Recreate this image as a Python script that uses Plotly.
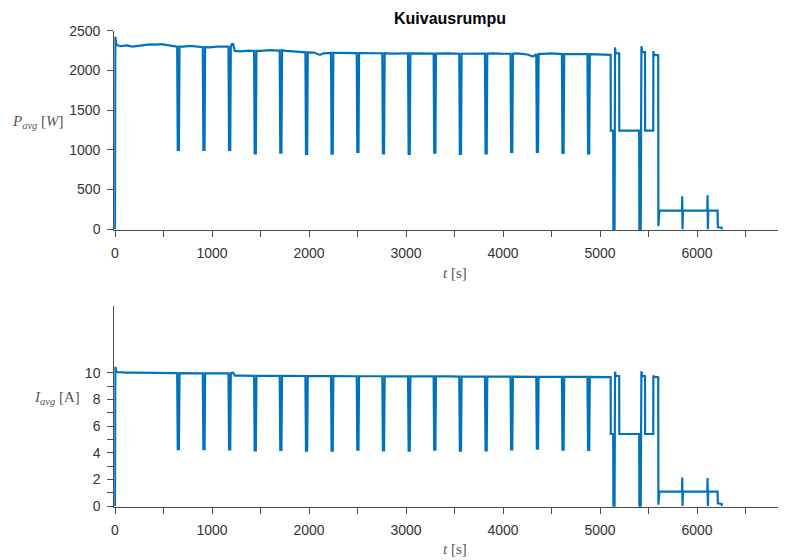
import plotly.graph_objects as go

# ---------------- data ----------------
# baseline of average power P_avg [W] / current I_avg [A] before the end sequence
base_t = [0, 3, 15, 60, 120, 180, 240, 300, 360, 420, 480, 540, 600, 700, 780, 850,
          980, 1050, 1120, 1160, 1205, 1218, 1235, 1300, 1380, 1500, 1600, 1680, 1760,
          1840, 1900, 2050, 2113, 2150, 2300, 2420, 2600, 2700, 2850, 3000, 3150, 3300,
          3450, 3600, 3750, 3900, 4000, 4150, 4250, 4310, 4360, 4500, 4700, 4800, 5000, 5108]
base_P = [0, 2425, 2320, 2305, 2315, 2300, 2310, 2320, 2328, 2325, 2330, 2318, 2305, 2300,
          2310, 2295, 2290, 2300, 2295, 2300, 2330, 2330, 2245, 2240, 2250, 2245, 2255, 2250,
          2245, 2240, 2230, 2225, 2195, 2215, 2220, 2218, 2215, 2220, 2212, 2215, 2210, 2212,
          2215, 2210, 2205, 2215, 2210, 2215, 2200, 2175, 2205, 2215, 2205, 2210, 2200, 2195]
base_I = [0, 10.45, 10.05, 10.02, 10.0, 10.0, 9.99, 9.98, 9.99, 9.98, 9.97, 9.97, 9.96, 9.95,
          9.95, 9.94, 9.95, 9.95, 9.94, 9.95, 10.0, 9.99, 9.78, 9.78, 9.77, 9.76, 9.77, 9.76,
          9.75, 9.75, 9.74, 9.75, 9.72, 9.74, 9.74, 9.73, 9.73, 9.73, 9.72, 9.72, 9.72, 9.71,
          9.72, 9.71, 9.70, 9.71, 9.70, 9.70, 9.69, 9.66, 9.68, 9.69, 9.68, 9.68, 9.67, 9.66]

# periodic dips: centre time, level before the dip, minimum of the dip
dip_t = [653, 917, 1182, 1446, 1710, 1975, 2239, 2504, 2768, 3033, 3297, 3561, 3826,
         4090, 4355, 4619, 4883]
dip_lvl_P = [2300, 2292, 2300, 2245, 2252, 2228, 2220, 2218, 2216, 2214, 2212, 2210, 2212,
             2210, 2205, 2206, 2205]
dip_min_P = [1000, 1000, 1000, 955, 965, 950, 952, 975, 955, 950, 950, 950, 955, 975,
             962, 962, 955]
dip_lvl_I = [9.96, 9.95, 9.95, 9.76, 9.76, 9.75, 9.74, 9.73, 9.73, 9.72, 9.72, 9.71, 9.71,
             9.70, 9.68, 9.69, 9.68]
dip_min_I = [4.27, 4.27, 4.25, 4.17, 4.2, 4.15, 4.16, 4.22, 4.17, 4.15, 4.15, 4.16, 4.17,
             4.25, 4.22, 4.22, 4.2]

# end of the programme (steps and spikes)
tail_t = [5110, 5111, 5136, 5138, 5150, 5155, 5162, 5198, 5199, 5404, 5406, 5420, 5427,
          5435, 5464, 5465, 5549, 5550, 5558, 5600, 5602, 5612, 5845, 5848, 5851, 5855,
          6106, 6109, 6112, 6116, 6212, 6215, 6254, 6256]
tail_P = [2195, 1243, 1243, 0, 0, 2290, 2215, 2215, 1243, 1243, 0, 0, 2305, 2231, 2231,
          1243, 1243, 2240, 2195, 2190, 40, 235, 235, 415, 0, 235, 235, 428, 0, 235, 235,
          25, 20, 0]
tail_I = [9.66, 5.4, 5.4, 0, 0, 10.07, 9.75, 9.75, 5.4, 5.4, 0, 0, 10.1, 9.74, 9.74, 5.4,
          5.4, 9.78, 9.68, 9.66, 0.1, 1.08, 1.08, 2.13, 0, 1.08, 1.08, 2.1, 0, 1.08, 1.08,
          0.2, 0.15, 0]

x_ticks = [0, 1000, 2000, 3000, 4000, 5000, 6000]
x_minor = [500, 1500, 2500, 3500, 4500, 5500, 6500]
yP_ticks = [0, 500, 1000, 1500, 2000, 2500]
yI_ticks = [0, 2, 4, 6, 8, 10]
yI_minor = [1, 3, 5, 7, 9]


def build(bt, bv, lv, mn, tt, tv):
    pts = list(zip(bt, bv))
    for c, l, m in zip(dip_t, lv, mn):
        pts += [(c - 12, l), (c - 6, m), (c + 6, m), (c + 12, l)]
    pts.sort(key=lambda p: p[0])
    pts += list(zip(tt, tv))
    return [p[0] for p in pts], [p[1] for p in pts]


tP, vP = build(base_t, base_P, dip_lvl_P, dip_min_P, tail_t, tail_P)
tI, vI = build(base_t, base_I, dip_lvl_I, dip_min_I, tail_t, tail_I)

# ---------------- figure ----------------
OFF = 8                 # page body margin in the browser
W, H = 786 - OFF, 560 - OFF


def fx(px):
    return (px - OFF) / W


def fy(py):
    return (H - (py - OFF)) / H


BLUE = "#0072BD"
AX = "#4d4d4d"
TICKF = dict(family="Liberation Sans, Arial, sans-serif", size=14, color="#333333")
LABF = dict(family="Liberation Serif, DejaVu Serif, serif", size=15, color="#555555")

fig = go.Figure()
fig.add_trace(go.Scatter(x=tP, y=vP, mode="lines", line=dict(color=BLUE, width=2.2),
                         xaxis="x", yaxis="y", showlegend=False, hoverinfo="skip"))
fig.add_trace(go.Scatter(x=tI, y=vI, mode="lines", line=dict(color=BLUE, width=2.2),
                         xaxis="x2", yaxis="y2", showlegend=False, hoverinfo="skip"))

pxu = 0.097  # pixels per second
xmin = -8
xleft = 115 + xmin * pxu
xmax = (786 - 115) / pxu


def xax(anchor):
    return dict(domain=[fx(xleft), 1.0], range=[xmin, xmax], anchor=anchor,
                showgrid=False, zeroline=False, showline=True, linecolor=AX, linewidth=1,
                ticks="outside", ticklen=6, tickcolor=AX, tickvals=x_ticks,
                ticktext=[str(v) for v in x_ticks], tickfont=TICKF, ticklabelstandoff=4,
                minor=dict(tickvals=x_minor, ticks="outside", ticklen=6, tickcolor=AX),
                automargin=False, fixedrange=True)


# top: 0 at y=229.3, 2500 at y=30.7
pyP = (229.3 - 30.7) / 2500
yPmin = -10
yP_bot = 229.3 - yPmin * pyP
# bottom: 0 at y=506, 15 at y=306
pyI = (506 - 306) / 15
yImin = -0.06
yI_bot = 506 - yImin * pyI

fig.update_layout(
    width=W, height=H, margin=dict(l=0, r=0, t=0, b=0),
    paper_bgcolor="white", plot_bgcolor="white",
    xaxis=xax("y"),
    xaxis2=xax("y2"),
    yaxis=dict(domain=[fy(yP_bot), fy(30.7)], range=[yPmin, 2500], anchor="x",
               showgrid=False, zeroline=False, showline=True, linecolor=AX, linewidth=1,
               ticks="outside", ticklen=6, tickcolor=AX, tickvals=yP_ticks,
               ticktext=[str(v) for v in yP_ticks], tickfont=TICKF, ticklabelstandoff=4,
               automargin=False, fixedrange=True),
    yaxis2=dict(domain=[fy(yI_bot), fy(306)], range=[yImin, 15], anchor="x2",
                showgrid=False, zeroline=False, showline=True, linecolor=AX, linewidth=1,
                ticks="outside", ticklen=6, tickcolor=AX, tickvals=yI_ticks,
                ticktext=[str(v) for v in yI_ticks], tickfont=TICKF, ticklabelstandoff=4,
                minor=dict(tickvals=yI_minor, ticks="outside", ticklen=6, tickcolor=AX),
                automargin=False, fixedrange=True),
    annotations=[
        dict(text="<b>Kuivausrumpu</b>", x=fx(450), y=fy(19), xref="paper", yref="paper",
             xanchor="center", yanchor="middle", showarrow=False,
             font=dict(family="Liberation Sans, Arial, sans-serif", size=16, color="#000000")),
        dict(text="<i>t</i> [s]", x=fx(455), y=fy(273), xref="paper", yref="paper",
             xanchor="center", yanchor="middle", showarrow=False, font=LABF),
        dict(text="<i>t</i> [s]", x=fx(455), y=fy(549), xref="paper", yref="paper",
             xanchor="center", yanchor="middle", showarrow=False, font=LABF),
        dict(text="<i>P</i><sub><i>avg</i></sub> [<i>W</i>]", x=fx(66), y=fy(122),
             xref="paper", yref="paper", xanchor="right", yanchor="middle",
             showarrow=False, font=LABF),
        dict(text="<i>I</i><sub><i>avg</i></sub> [A]", x=fx(82), y=fy(398),
             xref="paper", yref="paper", xanchor="right", yanchor="middle",
             showarrow=False, font=LABF),
    ],
)

fig.write_html("out.html")
